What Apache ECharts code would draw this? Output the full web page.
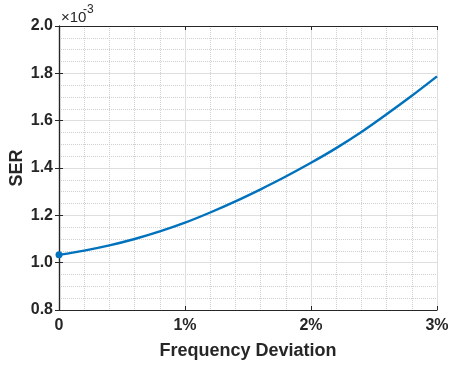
<!DOCTYPE html>
<html>
<head>
<meta charset="utf-8">
<script src="https://cdn.jsdelivr.net/npm/echarts@6/dist/echarts.min.js"></script>
<style>
  html, body { margin: 0; padding: 0; background: #fff; }
  #chart { width: 450px; height: 367px; }
</style>
</head>
<body>
<div id="chart"></div>
<script>
// Frequency deviation (percent) and the symbol error rate measured at each step
const deviation = [0, 0.2, 0.4, 0.6, 0.8, 1.0, 1.2, 1.4, 1.6, 1.8, 2.0, 2.2, 2.4, 2.6, 2.8, 3.0];
const ser = [1.033, 1.051, 1.073, 1.100, 1.132, 1.169, 1.212, 1.259, 1.310, 1.364, 1.422, 1.484, 1.552, 1.627, 1.705, 1.787]; // ×10^-3
const xTickLabels = ['0', '1%', '2%', '3%'];
const yTickLabels = ['0.8', '1.0', '1.2', '1.4', '1.6', '1.8', '2.0'];

const FONT = '"Liberation Sans", Arial, Helvetica, sans-serif';
const AXIS_COLOR = '#262626';

const chart = echarts.init(document.getElementById('chart'), null, { renderer: 'canvas' });

const gridLines = {
  splitLine: { show: true, lineStyle: { color: '#dedede', width: 1 } },
  minorSplitLine: { show: true, lineStyle: { color: '#d0d0d0', width: 1, type: [1, 1] } }
};

chart.setOption({
  animation: false,
  backgroundColor: '#fff',
  grid: { left: 59, right: 13, top: 26, bottom: 57, containLabel: false, outerBoundsMode: 'none' },
  graphic: [{
    type: 'text', left: 61, top: 10,
    style: { text: '×10', fontFamily: FONT, fontSize: 15, fill: AXIS_COLOR }
  }, {
    type: 'text', left: 83, top: 4,
    style: { text: '-3', fontFamily: FONT, fontSize: 12, fill: AXIS_COLOR }
  }],
  xAxis: [{
    type: 'value', min: 0, max: 3, interval: 1,
    name: 'Frequency Deviation', nameLocation: 'middle', nameGap: 32, nameMoveOverlap: false,
    nameTextStyle: { fontFamily: FONT, fontSize: 18, fontWeight: 'bold', color: AXIS_COLOR },
    axisLine: { show: true, lineStyle: { color: AXIS_COLOR, width: 1.2 } },
    axisTick: { show: true, inside: true, length: 4, lineStyle: { color: AXIS_COLOR } },
    minorTick: { show: false, splitNumber: 5 },
    axisLabel: {
      fontFamily: FONT, fontSize: 16, fontWeight: 'bold', color: AXIS_COLOR, margin: 8,
      formatter: v => xTickLabels[Math.round(v)]
    },
    ...gridLines
  }, {
    type: 'value', min: 0, max: 3, interval: 1, position: 'top',
    axisLine: { show: true, lineStyle: { color: AXIS_COLOR, width: 1.2 } },
    axisTick: { show: true, inside: true, length: 4, lineStyle: { color: AXIS_COLOR } },
    axisLabel: { show: false }, splitLine: { show: false }
  }],
  yAxis: [{
    type: 'value', min: 0.8, max: 2.0, interval: 0.2,
    name: 'SER', nameLocation: 'middle', nameGap: 33, nameRotate: 90, nameMoveOverlap: false,
    nameTextStyle: { fontFamily: FONT, fontSize: 18, fontWeight: 'bold', color: AXIS_COLOR },
    axisLine: { show: true, lineStyle: { color: AXIS_COLOR, width: 1.2 } },
    axisTick: { show: true, inside: true, length: 4, lineStyle: { color: AXIS_COLOR } },
    minorTick: { show: false, splitNumber: 4 },
    axisLabel: {
      fontFamily: FONT, fontSize: 16, fontWeight: 'bold', color: AXIS_COLOR, margin: 6,
      formatter: v => yTickLabels[Math.round((v - 0.8) / 0.2)]
    },
    ...gridLines
  }, {
    type: 'value', min: 0.8, max: 2.0, interval: 0.2, position: 'right',
    axisLine: { show: true, lineStyle: { color: AXIS_COLOR, width: 1.2 } },
    axisTick: { show: true, inside: true, length: 4, lineStyle: { color: AXIS_COLOR } },
    axisLabel: { show: false }, splitLine: { show: false }
  }],
  series: [{
    type: 'line',
    data: deviation.map((d, i) => [d, ser[i]]),
    smooth: 0.3,
    lineStyle: { color: '#0072BD', width: 2.4 },
    itemStyle: { color: '#0072BD' },
    symbol: 'circle',
    symbolSize: (val, params) => params.dataIndex === 0 ? 7 : 0,
    showSymbol: true,
    clip: false,
    z: 5
  }]
});
</script>
</body>
</html>
